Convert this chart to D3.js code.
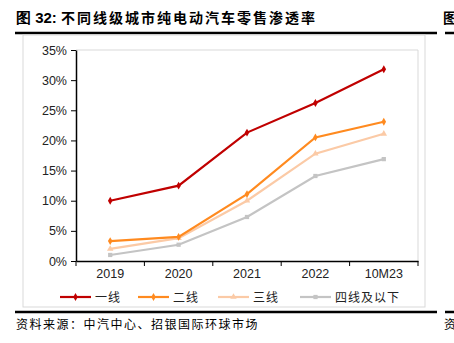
<!DOCTYPE html>
<html>
<head>
<meta charset="utf-8">
<script src="https://cdn.jsdelivr.net/npm/d3@7"></script>
<style>
  body { margin: 0; background: #fff; }
  svg { display: block; }
</style>
</head>
<body>
<div id="chart"></div>
<script>
// categories and series (penetration, %)
const categories = ["2019", "2020", "2021", "2022", "10M23"];
const tier1 = [10.0, 12.5, 21.3, 26.2, 31.8];
const tier2 = [3.3, 4.0, 11.1, 20.5, 23.1];
const tier3 = [2.0, 3.8, 10.0, 17.8, 21.1];
const tier4 = [1.0, 2.7, 7.3, 14.1, 16.9];
const seriesNames = ["一线", "二线", "三线", "四线及以下"];
const yTicks = [0, 5, 10, 15, 20, 25, 30, 35];

const W = 454, H = 343;
const cjk = "'Noto Sans CJK SC', sans-serif";
const latin = "'Liberation Sans', Arial, sans-serif";

const svg = d3.select("#chart").append("svg")
  .attr("width", W).attr("height", H);

// title
const title = svg.append("text")
  .attr("x", 16).attr("y", 23)
  .attr("font-family", cjk).attr("font-size", 14).attr("font-weight", "bold")
  .attr("fill", "#000");
title.append("tspan").attr("font-family", latin).attr("font-size", 15).text("图 32: ");
title.append("tspan").attr("letter-spacing", 2).text("不同线级城市纯电动汽车零售渗透率");
svg.append("text")
  .attr("x", 443).attr("y", 23)
  .attr("font-family", cjk).attr("font-size", 14).attr("font-weight", "bold")
  .text("图");

// heavy rules
svg.append("line").attr("x1", 15).attr("x2", 437).attr("y1", 33).attr("y2", 33)
  .attr("stroke", "#000").attr("stroke-width", 2.5);
svg.append("line").attr("x1", 445).attr("x2", 454).attr("y1", 33).attr("y2", 33)
  .attr("stroke", "#000").attr("stroke-width", 2.5);
svg.append("line").attr("x1", 15).attr("x2", 437).attr("y1", 312).attr("y2", 312)
  .attr("stroke", "#000").attr("stroke-width", 2.5);
svg.append("line").attr("x1", 445).attr("x2", 454).attr("y1", 312).attr("y2", 312)
  .attr("stroke", "#000").attr("stroke-width", 2.5);

// chart frame
svg.append("rect").attr("x", 23).attr("y", 35).attr("width", 402).attr("height", 272)
  .attr("fill", "none").attr("stroke", "#d9d9d9").attr("stroke-width", 1);

// source
svg.append("text")
  .attr("x", 16).attr("y", 329)
  .attr("font-family", cjk).attr("font-size", 12).attr("letter-spacing", 1.5).attr("fill", "#000")
  .text("资料来源：中汽中心、招银国际环球市场");
svg.append("text")
  .attr("x", 444).attr("y", 329)
  .attr("font-family", cjk).attr("font-size", 12)
  .text("资");

const m = { left: 76, right: 418, top: 50, bottom: 261 };

const x = d3.scaleBand().domain(categories).range([m.left, m.right]);
const y = d3.scaleLinear().domain([0, 35]).range([m.bottom, m.top]);

// plot border (top / right)
svg.append("path")
  .attr("d", `M${m.left},${m.top}H${m.right}V${m.bottom}`)
  .attr("fill", "none").attr("stroke", "#d9d9d9");

// y axis
const yAxis = svg.append("g")
  .attr("transform", `translate(${m.left},0)`)
  .call(d3.axisLeft(y).tickValues(yTicks).tickFormat(d => d + "%").tickSize(5).tickSizeOuter(0));
yAxis.select(".domain").attr("stroke", "#000").attr("stroke-width", 1.5);
yAxis.selectAll(".tick line").attr("stroke", "#000");
yAxis.selectAll("text").attr("font-family", latin).attr("font-size", 12.5)
  .attr("fill", "#222").attr("x", -9);

// x axis, ticks on category boundaries
const xAxis = svg.append("g")
  .attr("transform", `translate(0,${m.bottom})`)
  .call(d3.axisBottom(x).tickSize(0).tickSizeOuter(0));
xAxis.select(".domain").attr("stroke", "#000").attr("stroke-width", 1.5);
xAxis.selectAll("text").attr("font-family", latin).attr("font-size", 12.5)
  .attr("fill", "#222").attr("dy", "1.15em");
const bounds = categories.map(c => x(c)).concat([m.right]);
xAxis.selectAll(".bound").data(bounds).enter().append("line")
  .attr("x1", d => d).attr("x2", d => d).attr("y1", 0).attr("y2", 5)
  .attr("stroke", "#000").attr("stroke-width", 1);

const series = [
  { name: seriesNames[0], values: tier1, color: "#c00000", shape: d3.symbolDiamond },
  { name: seriesNames[1], values: tier2, color: "#ff8a1f", shape: d3.symbolDiamond },
  { name: seriesNames[2], values: tier3, color: "#fbcaa6", shape: d3.symbolTriangle },
  { name: seriesNames[3], values: tier4, color: "#c4c4c4", shape: d3.symbolSquare }
];

const cx = c => x(c) + x.bandwidth() / 2;
const line = d3.line().x((d, i) => cx(categories[i])).y(d => y(d));

series.slice().reverse().forEach(s => {
  svg.append("path").datum(s.values)
    .attr("d", line)
    .attr("fill", "none").attr("stroke", s.color).attr("stroke-width", 2.2);
  svg.selectAll(null).data(s.values).enter().append("path")
    .attr("d", d3.symbol().type(s.shape).size(18))
    .attr("transform", (d, i) => `translate(${cx(categories[i])},${y(d)})`)
    .attr("fill", s.color);
});

// legend
const legendX = [60, 138, 218, 300];
const legendY = 297;
series.forEach((s, i) => {
  const g = svg.append("g").attr("transform", `translate(${legendX[i]},${legendY})`);
  g.append("line").attr("x1", 0).attr("x2", 31).attr("y1", 0).attr("y2", 0)
    .attr("stroke", s.color).attr("stroke-width", 2.2);
  g.append("path").attr("d", d3.symbol().type(s.shape).size(18))
    .attr("transform", "translate(15.5,0)").attr("fill", s.color);
  g.append("text").attr("x", 35).attr("y", 4.5)
    .attr("font-family", cjk).attr("font-size", 12).attr("letter-spacing", 1).attr("fill", "#222")
    .text(s.name);
});
</script>
</body>
</html>
